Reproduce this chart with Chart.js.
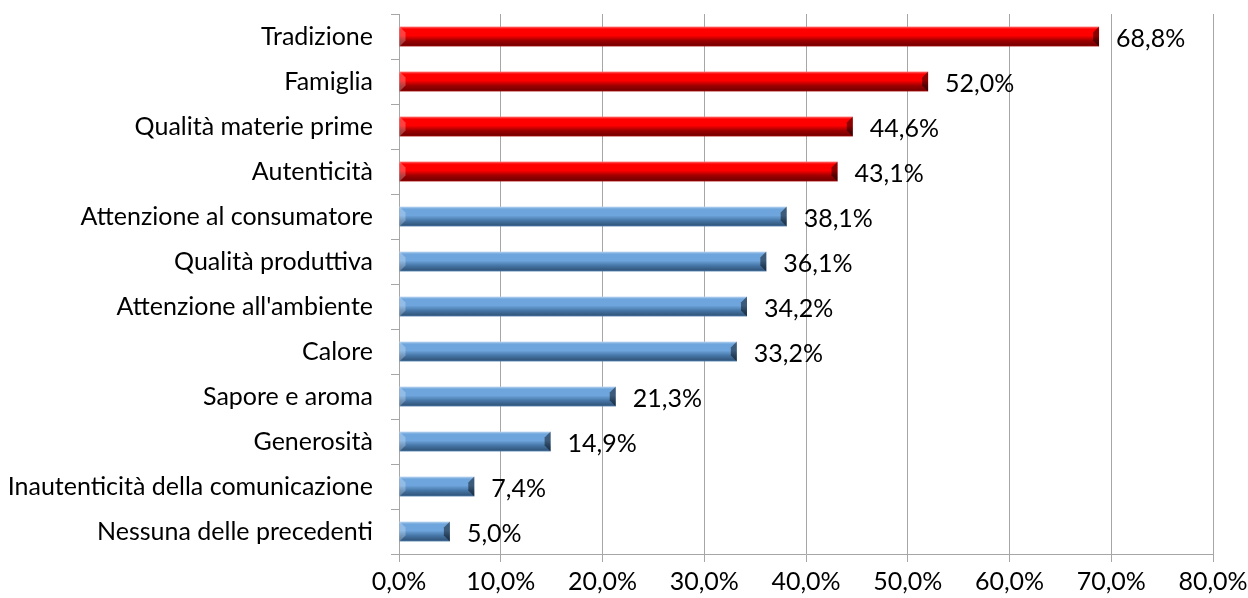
<!DOCTYPE html>
<html>
<head>
<meta charset="utf-8">
<script src="https://cdn.jsdelivr.net/npm/chart.js@4"></script>
<style>
    html, body { margin: 0; padding: 0; background: #fff; }
    #wrap { width: 1248px; height: 598px; }
</style>
</head>
<body>
<div id="wrap"><canvas id="valoriChart"></canvas></div>
<script>
const categories = [
    'Tradizione', 'Famiglia', 'Qualità materie prime', 'Autenticità',
    'Attenzione al consumatore', 'Qualità produttiva', "Attenzione all'ambiente",
    'Calore', 'Sapore e aroma', 'Generosità',
    'Inautenticità della comunicazione', 'Nessuna delle precedenti'
];
const values = [68.8, 52.0, 44.6, 43.1, 38.1, 36.1, 34.2, 33.2, 21.3, 14.9, 7.4, 5.0];
const xTicks = [0, 10, 20, 30, 40, 50, 60, 70, 80];
const topCount = 4; // first bars drawn in red

const FONT = 'Lato, "Open Sans", sans-serif';
const fmt = v => v.toFixed(1).replace('.', ',') + '%';

const palette = {
    red:  { light: '#ff7070', main: '#ff0000', dark: '#a00000', deep: '#7a0000' },
    blue: { light: '#bcd6f2', main: '#6ea5dc', dark: '#4777a8', deep: '#34597f' }
};

/* 3D bevelled bars + value labels */
const bevelBars = {
    id: 'bevelBars',
    afterDatasetsDraw(chart) {
        const ctx = chart.ctx;
        const meta = chart.getDatasetMeta(0);
        meta.data.forEach((bar, i) => {
            const p = bar.getProps(['x', 'y', 'base', 'height'], true);
            const x0 = p.base, x1 = p.x;
            const y0 = p.y - p.height / 2, y1 = p.y + p.height / 2;
            const c = i < topCount ? palette.red : palette.blue;
            const b = Math.min(6, (x1 - x0) / 3);

            ctx.save();
            const g = ctx.createLinearGradient(0, y0, 0, y1);
            g.addColorStop(0, c.light);
            g.addColorStop(0.12, c.main);
            g.addColorStop(0.45, c.main);
            g.addColorStop(0.7, c.dark);
            g.addColorStop(0.92, c.deep);
            g.addColorStop(1, c.dark);
            ctx.fillStyle = g;
            ctx.fillRect(x0, y0, x1 - x0, y1 - y0);

            // left bevel, lighter
            ctx.beginPath();
            ctx.moveTo(x0, y0);
            ctx.lineTo(x0 + b, y0 + b);
            ctx.lineTo(x0 + b, y1 - b);
            ctx.lineTo(x0, y1);
            ctx.closePath();
            ctx.fillStyle = 'rgba(255,255,255,0.25)';
            ctx.fill();

            // right bevel, darker
            ctx.beginPath();
            ctx.moveTo(x1, y0);
            ctx.lineTo(x1 - b, y0 + b);
            ctx.lineTo(x1 - b, y1 - b);
            ctx.lineTo(x1, y1);
            ctx.closePath();
            ctx.fillStyle = 'rgba(0,0,0,0.45)';
            ctx.fill();

            ctx.fillStyle = '#000';
            ctx.font = '25px ' + FONT;
            ctx.textAlign = 'left';
            ctx.textBaseline = 'middle';
            ctx.fillText(fmt(values[i]), x1 + 17, p.y + 2);
            ctx.restore();
        });
    }
};

new Chart(document.getElementById('valoriChart'), {
    type: 'bar',
    data: {
        labels: categories,
        datasets: [{
            data: values,
            backgroundColor: 'rgba(0,0,0,0)',
            barPercentage: 0.44,
            categoryPercentage: 1
        }]
    },
    options: {
        indexAxis: 'y',
        responsive: true,
        maintainAspectRatio: false,
        animation: false,
        layout: { padding: { top: 14, right: 35, left: 0, bottom: 0 } },
        plugins: { legend: { display: false }, tooltip: { enabled: false } },
        scales: {
            x: {
                min: 0,
                max: 80,
                afterBuildTicks: s => { s.ticks = xTicks.map(v => ({ value: v })); },
                afterFit: s => { s.height = 44; s.paddingLeft = 0; s.paddingRight = 0; },
                grid: { color: '#a6a6a6', lineWidth: 1, tickLength: 8 },
                border: { color: '#a6a6a6' },
                ticks: {
                    color: '#000',
                    padding: 5,
                    maxRotation: 0,
                    font: { family: FONT, size: 25 },
                    callback: v => fmt(v)
                }
            },
            y: {
                afterFit: s => { s.width = 399; s.paddingTop = 0; s.paddingBottom = 0; },
                grid: { drawOnChartArea: false, color: '#a6a6a6', tickLength: 8, offset: true },
                border: { color: '#a6a6a6' },
                ticks: {
                    color: '#000',
                    padding: 18,
                    font: { family: FONT, size: 25 }
                }
            }
        }
    },
    plugins: [bevelBars]
});
</script>
</body>
</html>
